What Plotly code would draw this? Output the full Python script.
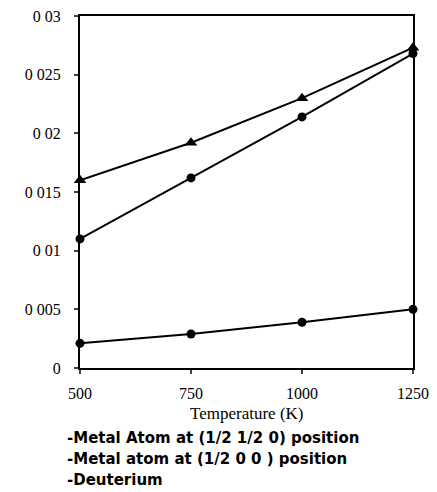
import plotly.graph_objects as go

temperature = [500, 750, 1000, 1250]
metal_half_half = [0.0160, 0.0192, 0.0230, 0.0273]
metal_half_zero = [0.0110, 0.0162, 0.0214, 0.0268]
deuterium = [0.0021, 0.0029, 0.0039, 0.0050]

series_names = [
    "-Metal Atom at (1/2 1/2 0) position",
    "-Metal atom at (1/2 0 0 ) position",
    "-Deuterium",
]
y_tickvals = [0, 0.005, 0.01, 0.015, 0.02, 0.025, 0.03]
y_ticktext = ["0", "0 005", "0 01", "0 015", "0 02", "0 025", "0 03"]
x_tickvals = [500, 750, 1000, 1250]

fig = go.Figure()
series = [
    (metal_half_half, "triangle-up", 11),
    (metal_half_zero, "circle", 9),
    (deuterium, "circle", 9),
]
for (vals, sym, sz), name in zip(series, series_names):
    fig.add_trace(go.Scatter(
        x=temperature, y=vals, mode="lines+markers", name=name,
        line=dict(color="black", width=2),
        marker=dict(symbol=sym, size=sz, color="black"),
        showlegend=False, cliponaxis=False,
    ))

serif = dict(family="Liberation Serif", size=16, color="black")
fig.update_xaxes(
    range=[500, 1250], tickvals=x_tickvals, ticks="outside", ticklen=4,
    tickwidth=2, showline=True, linecolor="black", linewidth=2, mirror=True,
    showgrid=False, zeroline=False, tickfont=serif, automargin=False,
    ticklabelstandoff=6, ticklabeloverflow="allow",
)
fig.update_yaxes(
    range=[0, 0.03], tickvals=y_tickvals, ticktext=y_ticktext, ticks="outside",
    ticklen=4, tickwidth=2, showline=True, linecolor="black", linewidth=2,
    mirror=True, showgrid=False, zeroline=False, tickfont=serif,
    automargin=False, ticklabelstandoff=10, ticklabeloverflow="allow",
)

fig.add_annotation(
    text="Temperature (K)", xref="paper", yref="paper", x=0.5, y=-0.128,
    xanchor="center", yanchor="middle", showarrow=False,
    font=dict(family="Liberation Serif", size=17, color="black"),
)
legend_y = [-0.199, -0.259, -0.318]
for name, yy in zip(series_names, legend_y):
    fig.add_annotation(
        text="<b>" + name + "</b>", xref="paper", yref="paper",
        x=-0.045, y=yy, xanchor="left", yanchor="middle",
        showarrow=False,
        font=dict(family="DejaVu Sans", size=15, color="black"),
    )

fig.update_layout(
    width=429, height=484,
    margin=dict(l=72, r=24, t=8, b=124),
    paper_bgcolor="white", plot_bgcolor="white",
)
fig.write_html("out.html")
